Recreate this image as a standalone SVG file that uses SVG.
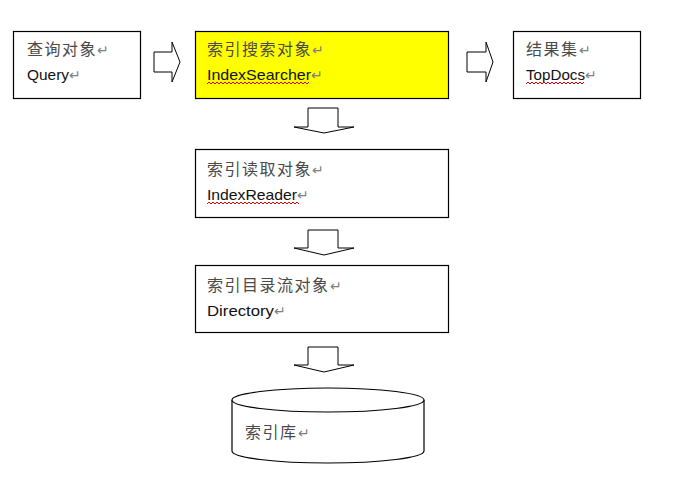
<svg xmlns="http://www.w3.org/2000/svg" width="694" height="477" viewBox="0 0 694 477">
<defs>
<style>
.box{fill:#fff;stroke:#000;stroke-width:1.2}
.hl{fill:#ffff00;stroke:#000;stroke-width:1.2}
.arr{fill:#fff;stroke:#000;stroke-width:1}
.zh{font-family:"Noto Sans CJK SC","Liberation Sans",sans-serif;font-size:16px;fill:#4a4a4a;letter-spacing:1.5px}
.en{font-family:"Liberation Sans","Noto Sans",sans-serif;font-size:15px;fill:#111}
.pm{fill:#808080;font-size:14px;letter-spacing:0}
.sq{fill:none;stroke:#e00000;stroke-width:1}
</style>
</defs>
<rect width="694" height="477" fill="#fff"/>
<g id="connectors">
<polygon class="arr" points="154,52 172,52 172,42 180,62 172,82 172,72 154,72"/>
<polygon class="arr" points="467,52 486,52 486,42 493,62 486,82 486,72 467,72"/>
<polygon class="arr" points="308,108 338,108 338,127 354,127 324,133 294,127 308,127"/>
<polygon class="arr" points="308,230 338,230 338,248 354,248 324,255 294,248 308,248"/>
<polygon class="arr" points="308,347 338,347 338,365 354,365 324,372 294,365 308,365"/>
</g>
<g id="query">
<rect class="box" x="13.5" y="31.5" width="127" height="67"/>
<text class="zh" x="27" y="55">查询对象<tspan class="pm">↵</tspan></text>
<text class="en" x="27" y="80"><tspan textLength="42" lengthAdjust="spacingAndGlyphs">Query</tspan><tspan class="pm">↵</tspan></text>
</g>
<g id="indexsearcher">
<rect class="hl" x="195.5" y="31.5" width="253" height="67"/>
<text class="zh" x="207" y="55">索引搜索对象<tspan class="pm">↵</tspan></text>
<text class="en" x="207" y="80"><tspan textLength="104" lengthAdjust="spacingAndGlyphs">IndexSearcher</tspan><tspan class="pm">↵</tspan></text>
<path class="sq" d="M207,84 l2,-2 l2,2 l2,-2 l2,2 l2,-2 l2,2 l2,-2 l2,2 l2,-2 l2,2 l2,-2 l2,2 l2,-2 l2,2 l2,-2 l2,2 l2,-2 l2,2 l2,-2 l2,2 l2,-2 l2,2 l2,-2 l2,2 l2,-2 l2,2 l2,-2 l2,2 l2,-2 l2,2 l2,-2 l2,2 l2,-2 l2,2 l2,-2 l2,2 l2,-2 l2,2 l2,-2 l2,2 l2,-2 l2,2 l2,-2 l2,2 l2,-2 l2,2 l2,-2 l2,2 l2,-2 l2,2 l2,-2"/>
</g>
<g id="topdocs">
<rect class="box" x="513.5" y="31.5" width="127" height="67"/>
<text class="zh" x="526" y="55">结果集<tspan class="pm">↵</tspan></text>
<text class="en" x="526" y="80"><tspan textLength="59" lengthAdjust="spacingAndGlyphs">TopDocs</tspan><tspan class="pm">↵</tspan></text>
<path class="sq" d="M526,84 l2,-2 l2,2 l2,-2 l2,2 l2,-2 l2,2 l2,-2 l2,2 l2,-2 l2,2 l2,-2 l2,2 l2,-2 l2,2 l2,-2 l2,2 l2,-2 l2,2 l2,-2 l2,2 l2,-2 l2,2 l2,-2 l2,2 l2,-2 l2,2 l2,-2 l2,2 l2,-2"/>
</g>
<g id="indexreader">
<rect class="box" x="195.5" y="149.5" width="253" height="68"/>
<text class="zh" x="207" y="175">索引读取对象<tspan class="pm">↵</tspan></text>
<text class="en" x="207" y="200"><tspan textLength="90" lengthAdjust="spacingAndGlyphs">IndexReader</tspan><tspan class="pm">↵</tspan></text>
<path class="sq" d="M207,204 l2,-2 l2,2 l2,-2 l2,2 l2,-2 l2,2 l2,-2 l2,2 l2,-2 l2,2 l2,-2 l2,2 l2,-2 l2,2 l2,-2 l2,2 l2,-2 l2,2 l2,-2 l2,2 l2,-2 l2,2 l2,-2 l2,2 l2,-2 l2,2 l2,-2 l2,2 l2,-2 l2,2 l2,-2 l2,2 l2,-2 l2,2 l2,-2 l2,2 l2,-2 l2,2 l2,-2 l2,2 l2,-2 l2,2 l2,-2 l2,2 l2,-2 l2,2"/>
</g>
<g id="directory">
<rect class="box" x="195.5" y="265.5" width="253" height="67"/>
<text class="zh" x="207" y="291">索引目录流对象<tspan class="pm">↵</tspan></text>
<text class="en" x="207" y="316"><tspan textLength="67" lengthAdjust="spacingAndGlyphs">Directory</tspan><tspan class="pm">↵</tspan></text>
</g>
<g id="indexdb">
<path class="box" d="M232,400 L232,451 A96,12 0 0 0 424,451 L424,400"/>
<ellipse class="box" cx="328" cy="400" rx="96" ry="12"/>
<text class="zh" x="245" y="438">索引库<tspan class="pm">↵</tspan></text>
</g>
</svg>
